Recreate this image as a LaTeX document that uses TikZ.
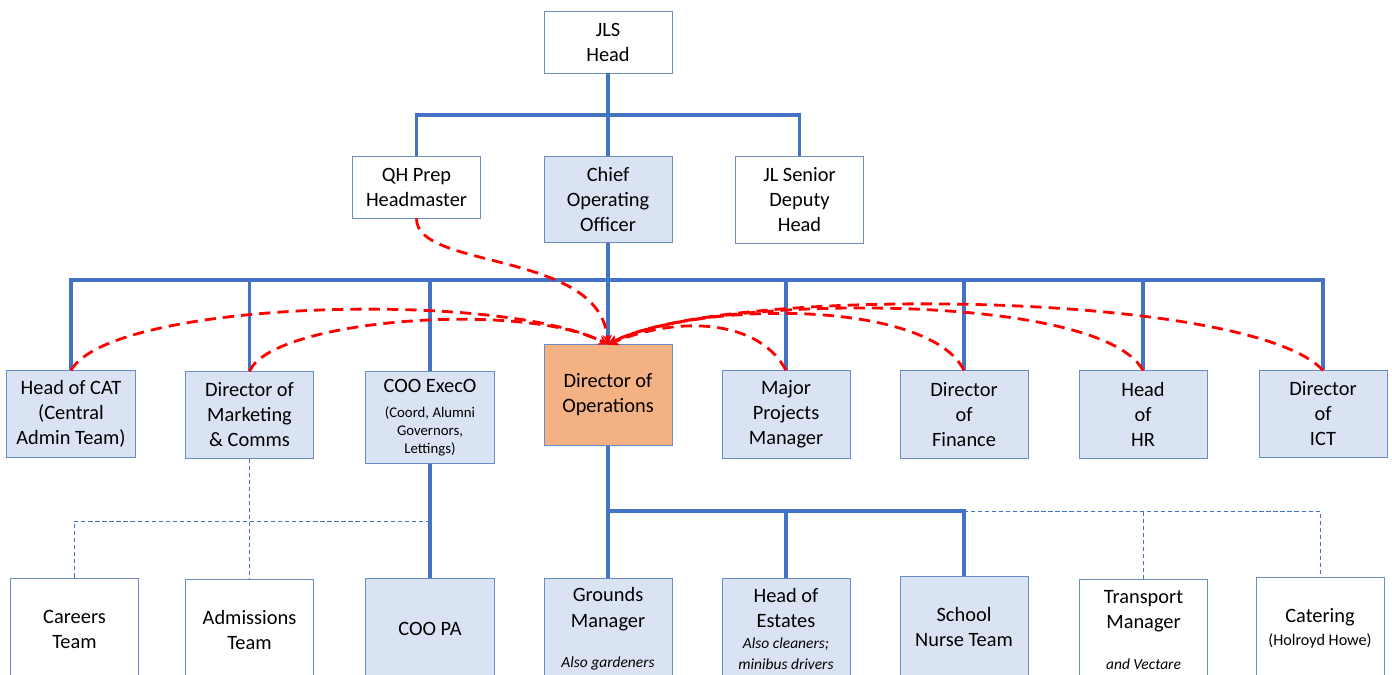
\documentclass[tikz,border=0pt]{standalone}
\usepackage{fontspec}
\setmainfont{Carlito}
\usepackage{tikz}
\usetikzlibrary{shapes,arrows}
\definecolor{orgblue}{HTML}{4472C4}
\definecolor{boxline}{HTML}{6A8CC7}
\definecolor{boxfill}{HTML}{DAE3F3}
\definecolor{opsfill}{HTML}{F4B183}
\definecolor{linkred}{HTML}{FF0000}
\tikzstyle{post} = [rectangle, draw=boxline, line width=0.7pt, minimum width=3.2cm, align=center, inner sep=2pt, font=\fontsize{14.5}{17.8}\selectfont]
\tikzstyle{shaded} = [post, fill=boxfill]
\tikzstyle{plain} = [post, fill=white]
\tikzstyle{orgline} = [draw=orgblue, line width=2.6pt]
\tikzstyle{dotline} = [draw=orgblue, line width=0.7pt, dash pattern=on 3pt off 2pt]
\tikzstyle{link} = [draw=linkred, line width=2pt, dash pattern=on 8pt off 5pt, ->, >=stealth]
\newcommand{\smalltxt}[1]{{\fontsize{10.5}{12.8}\selectfont #1}}
\newcommand{\asidetxt}[1]{{\fontsize{11}{13}\selectfont\itshape #1}}

\begin{document}
\begin{tikzpicture}[x=0.025cm, y=-0.025cm]
        \useasboundingbox (0,0) rectangle (1392,675);
        \clip (0,0) rectangle (1392,675);

        % top
        \node (jls) [plain, minimum height=1.525cm] at (608,42.5) {JLS\\Head};
        \node (qh) [plain, minimum height=1.525cm] at (416.5,187.5) {QH Prep\\Headmaster};
        \node (coo) [shaded, minimum height=2.125cm] at (608,199.5) {Chief\\Operating\\Officer};
        \node (jlsd) [plain, minimum height=2.15cm] at (799.5,200) {JL Senior\\Deputy\\Head};

        % under the COO
        \node (cat) [shaded, minimum height=2.15cm] at (71,414) {Head of CAT\\(Central\\Admin Team)};
        \node (mkt) [shaded, minimum height=2.15cm] at (249.5,415) {Director of\\Marketing\\\& Comms};
        \node (exo) [shaded, minimum height=2.275cm] at (430,417.5) {COO ExecO\\\smalltxt{(Coord, Alumni}\\[-5pt]\smalltxt{Governors,}\\[-5pt]\smalltxt{Lettings)}};
        \node (doo) [post, fill=opsfill, minimum height=2.5cm] at (608,395) {Director of\\Operations};
        \node (mpm) [shaded, minimum height=2.175cm] at (786,414.5) {Major\\Projects\\Manager};
        \node (fin) [shaded, minimum height=2.175cm] at (964,414.5) {Director\\of\\Finance};
        \node (hr) [shaded, minimum height=2.175cm] at (1143,414.5) {Head\\of\\HR};
        \node (ict) [shaded, minimum height=2.15cm] at (1323,414) {Director\\of\\ICT};

        % teams
        \node (car) [plain, minimum height=2.5cm] at (74.5,629) {Careers\\Team};
        \node (adm) [plain, minimum height=2.5cm] at (249.5,630) {Admissions\\Team};
        \node (pa) [shaded, minimum height=2.5cm] at (430,629) {COO PA};
        \node (grd) [shaded, minimum height=2.5cm] at (608,629) {Grounds\\Manager\\[11pt]\asidetxt{Also gardeners}};
        \node (est) [shaded, minimum height=2.5cm] at (786,629) {Head of\\Estates\\[-3pt]\asidetxt{Also cleaners;}\\[-3pt]\asidetxt{minibus drivers}};
        \node (nurse) [shaded, minimum height=2.5cm] at (964,627) {School\\Nurse Team};
        \node (trn) [plain, minimum height=2.5cm] at (1143.5,630) {Transport\\Manager\\[12pt]\asidetxt{and Vectare}};
        \node (cater) [plain, minimum height=2.5cm] at (1320,628) {Catering\\[-1.5pt]{\fontsize{11.5}{13}\selectfont (Holroyd Howe)}};

        \coordinate (busA) at (608,115);
        \coordinate (busB) at (608,280);
        \coordinate (busC) at (608,511);
        \coordinate (busD) at (430,521);

        \draw[orgline] (jls) -- (coo);
        \draw[orgline] (qh.north) |- (busA) -| (jlsd.north);
        \draw[orgline] (coo) -- (doo);
        \draw[orgline] (cat.north) |- (busB) -| (ict.north);
        \foreach \n in {mkt,exo,mpm,fin,hr}
            \draw[orgline] (\n.north) -- (\n.north |- busB);

        \draw[orgline] (doo) -- (grd);
        \draw[orgline] (busC) -| (nurse.north);
        \draw[orgline] (est.north) -- (est.north |- busC);
        \draw[orgline] (exo) -- (pa);

        \draw[dotline] (mkt) -- (adm);
        \draw[dotline] (busD) -| (car.north);
        \draw[dotline] (nurse.north |- busC) -| (cater.north);
        \draw[dotline] (trn.north) -- (trn.north |- busC);

        \draw[link] (qh.south) .. controls (416,270) and (600,250) .. (doo.north);
        \draw[link] (cat.north) .. controls (110,300) and (500,290) .. (doo.north);
        \draw[link] (mkt.north) .. controls (270,320) and (520,300) .. (doo.north);
        \draw[link] (mpm.north) .. controls (760,320) and (680,315) .. (doo.north);
        \draw[link] (fin.north) .. controls (930,300) and (700,300) .. (doo.north);
        \draw[link] (hr.north) .. controls (1100,290) and (700,295) .. (doo.north);
        \draw[link] (ict.north) .. controls (1250,290) and (720,285) .. (doo.north);
    \end{tikzpicture}
\end{document}
